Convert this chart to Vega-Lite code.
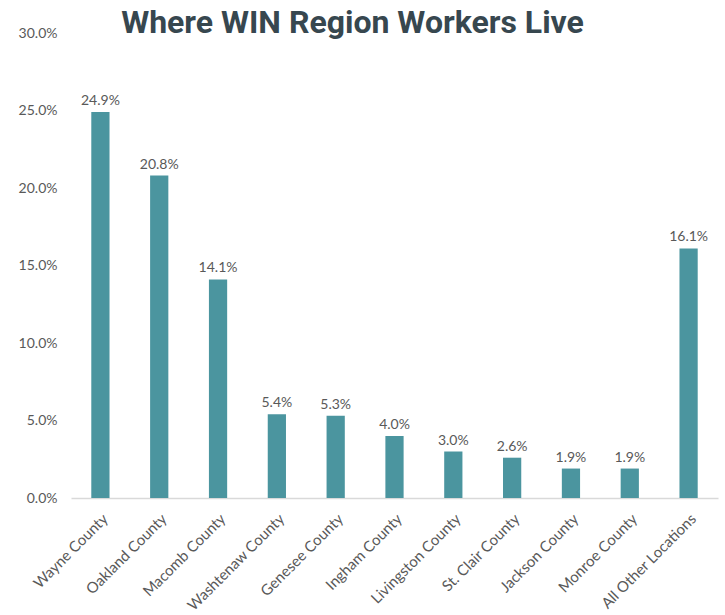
{
  "$schema": "https://vega.github.io/schema/vega-lite/v6.json",
  "autosize": {"type": "none"},
  "width": 647,
  "height": 465,
  "padding": {"left": 71, "top": 33, "right": 7, "bottom": 117},
  "background": "white",
  "config": {"view": {"stroke": null}, "font": "Lato"},
  "title": {
    "text": "Where WIN Region Workers Live",
    "font": "Roboto",
    "fontSize": 32,
    "fontWeight": "bold",
    "color": "#37474F",
    "anchor": "middle",
    "dx": -42,
    "dy": 46,
    "baseline": "bottom",
    "offset": 0
  },
  "data": {
    "values": [
      {"location": "Wayne County", "share": 0.249},
      {"location": "Oakland County", "share": 0.208},
      {"location": "Macomb County", "share": 0.141},
      {"location": "Washtenaw County", "share": 0.054},
      {"location": "Genesee County", "share": 0.053},
      {"location": "Ingham County", "share": 0.040},
      {"location": "Livingston County", "share": 0.030},
      {"location": "St. Clair County", "share": 0.026},
      {"location": "Jackson County", "share": 0.019},
      {"location": "Monroe County", "share": 0.019},
      {"location": "All Other Locations", "share": 0.161}
    ]
  },
  "encoding": {
    "x": {
      "field": "location",
      "type": "nominal",
      "sort": null,
      "title": null,
      "scale": {"paddingInner": 0.69, "paddingOuter": 0.345},
      "axis": {
        "labelAngle": -45,
        "labelFontSize": 15,
        "labelColor": "#595959",
        "domainColor": "#D9D9D9",
        "domainWidth": 1.5,
        "ticks": false,
        "labelPadding": 13
      }
    },
    "y": {
      "field": "share",
      "type": "quantitative",
      "title": null,
      "scale": {"domain": [0, 0.3]},
      "axis": {
        "format": ".1%",
        "values": [0, 0.05, 0.1, 0.15, 0.2, 0.25, 0.3],
        "grid": false,
        "domain": false,
        "ticks": false,
        "labelFontSize": 14,
        "labelColor": "#595959",
        "labelPadding": 14
      }
    }
  },
  "layer": [
    {"mark": {"type": "bar", "color": "#4B959F"}},
    {
      "mark": {"type": "text", "baseline": "alphabetic", "dy": -7, "fontSize": 14, "color": "#595959"},
      "encoding": {"text": {"field": "share", "type": "quantitative", "format": ".1%"}}
    }
  ]
}
